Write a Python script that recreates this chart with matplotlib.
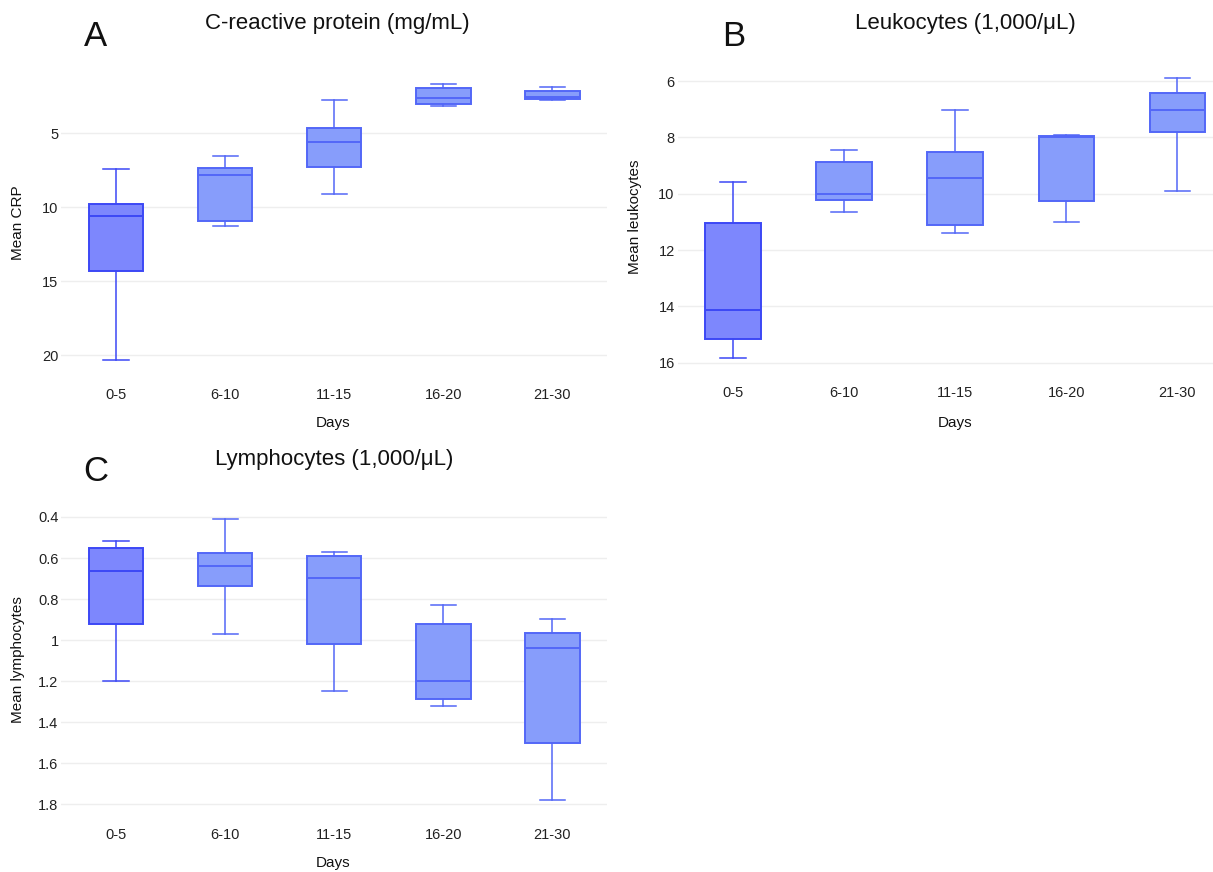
import numpy as np
import matplotlib
matplotlib.use("Agg")
import matplotlib.pyplot as plt

plt.rcParams['font.family'] = ['Liberation Sans', 'DejaVu Sans']

# faixas de dias (categorias do eixo x)
dias = ["0-5", "6-10", "11-15", "16-20", "21-30"]

# A - PCR (whisker inferior visual = valor menor, eixo invertido)
crp_min = [7.42, 6.51, 2.74, 1.66, 1.86]
crp_q1 = [9.77, 7.37, 4.62, 1.91, 2.15]
crp_med = [10.62, 7.82, 5.59, 2.65, 2.56]
crp_q3 = [14.31, 10.96, 7.30, 3.03, 2.70]
crp_max = [20.34, 11.28, 9.09, 3.17, 2.74]

# B - leucocitos
leu_min = [9.57, 8.44, 7.04, 7.90, 5.89]
leu_q1 = [11.05, 8.86, 8.51, 7.94, 6.43]
leu_med = [14.13, 10.01, 9.45, 7.98, 7.04]
leu_q3 = [15.16, 10.21, 11.12, 10.25, 7.79]
leu_max = [15.83, 10.65, 11.41, 10.99, 9.91]

# C - linfocitos
lin_min = [0.519, 0.410, 0.569, 0.829, 0.899]
lin_q1 = [0.550, 0.576, 0.589, 0.922, 0.966]
lin_med = [0.663, 0.639, 0.698, 1.200, 1.039]
lin_q3 = [0.920, 0.738, 1.020, 1.288, 1.502]
lin_max = [1.200, 0.969, 1.249, 1.320, 1.779]

W, H = 1213, 872
fig = plt.figure(figsize=(W / 100, H / 100), dpi=100)


def eixo(left, right, top, bottom):
    return fig.add_axes([left / W, 1 - bottom / H, (right - left) / W, (bottom - top) / H])


def caixas(ax, lo, q1, med, q3, hi, ticks, xmax=4.5):
    stats = []
    for i in range(len(dias)):
        stats.append({'whislo': lo[i], 'q1': q1[i], 'med': med[i], 'q3': q3[i],
                      'whishi': hi[i], 'label': dias[i], 'fliers': []})
    pos = np.arange(len(dias))
    bp = ax.bxp(stats, positions=pos, widths=0.5, capwidths=0.23, patch_artist=True,
                showfliers=False, manage_ticks=False)
    for i, patch in enumerate(bp['boxes']):
        if i == 0:
            fill, edge = '#7d87fd', '#3c48f5'
        else:
            fill, edge = '#879dfb', '#5367f7'
        patch.set_facecolor(fill)
        patch.set_edgecolor(edge)
        patch.set_linewidth(1.4)
        bp['medians'][i].set_color(edge)
        bp['medians'][i].set_linewidth(1.4)
        for ln in bp['whiskers'][2 * i:2 * i + 2] + bp['caps'][2 * i:2 * i + 2]:
            ln.set_color(edge)
            ln.set_linewidth(1.1)
    span = max(hi) - min(lo)
    ax.set_ylim(max(hi) + 0.05 * span, min(lo) - 0.05 * span)
    ax.set_xlim(-0.5, xmax)
    ax.set_xticks(pos)
    ax.set_xticklabels(dias)
    ax.set_yticks(ticks)
    ax.set_yticklabels([f"{t:g}" for t in ticks])
    ax.yaxis.grid(True, color='#eeeeee', linewidth=1)
    ax.set_axisbelow(True)
    for s in ax.spines.values():
        s.set_visible(False)
    ax.tick_params(length=0, labelsize=10.5, labelcolor='#222222')
    ax.tick_params(axis='x', pad=10)
    ax.tick_params(axis='y', pad=2)


axA = eixo(61.4, 607, 70, 374)
caixas(axA, crp_min, crp_q1, crp_med, crp_q3, crp_max, [5, 10, 15, 20])
axB = eixo(677.5, 1213, 64, 372)
caixas(axB, leu_min, leu_q1, leu_med, leu_q3, leu_max, [6, 8, 10, 12, 14, 16], xmax=4.32)
axC = eixo(61.4, 607, 505, 814)
caixas(axC, lin_min, lin_q1, lin_med, lin_q3, lin_max, [0.4, 0.6, 0.8, 1.0, 1.2, 1.4, 1.6, 1.8])


def txt(x, y, s, size, **kw):
    fig.text(x / W, 1 - y / H, s, fontsize=size, ha='center', va='center', color='#111111', **kw)


txt(95, 37, "A", 25)
txt(337, 23, "C-reactive protein (mg/mL)", 16)
txt(734, 37, "B", 25)
txt(965, 23, "Leukocytes (1,000/μL)", 16)
txt(96, 471, "C", 25)
txt(334, 459, "Lymphocytes (1,000/μL)", 16)

txt(333, 423, "Days", 11)
txt(955, 423, "Days", 11)
txt(333, 863, "Days", 11)

txt(18, 223, "Mean CRP", 11, rotation=90)
txt(635, 217, "Mean leukocytes", 11, rotation=90)
txt(18, 660, "Mean lymphocytes", 11, rotation=90)

fig.savefig("out.png", dpi=100, facecolor='white')
